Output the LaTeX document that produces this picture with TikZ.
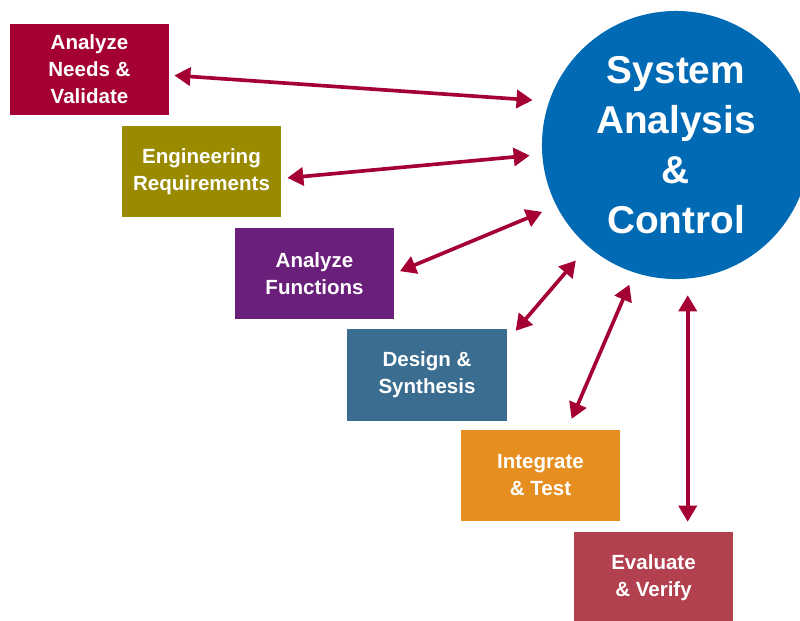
\documentclass[tikz,border=0pt]{standalone}
\usepackage{fontspec}
\setmainfont{Liberation Sans}
\usepackage{tikz}
\usetikzlibrary{arrows.meta}
\definecolor{crimson}{HTML}{A50034}
\definecolor{olive}{HTML}{9A8A00}
\definecolor{plum}{HTML}{6A1F7A}
\definecolor{steel}{HTML}{3A6D90}
\definecolor{amber}{HTML}{E68E1F}
\definecolor{rose}{HTML}{B3404F}
\definecolor{hubblue}{HTML}{006AB5}
\tikzset{box/.style={rectangle, text=white, align=center, minimum width=3.975cm, minimum height=2.275cm, inner sep=0pt, font=\bfseries\fontsize{14.6}{19.2}\selectfont}}
\tikzset{hub/.style={circle, fill=hubblue, text=white, align=center, minimum size=6.7cm, inner sep=0pt, font=\bfseries\fontsize{27.6}{35.6}\selectfont}}
\tikzset{link/.style={draw=crimson, line width=2.6pt, {Triangle[length=11.4pt, width=12.8pt]}-{Triangle[length=11.4pt, width=12.8pt]}}}

\begin{document}
\begin{tikzpicture}[x=0.025cm, y=-0.025cm]
            \useasboundingbox (0,0) rectangle (800,620);
            \node[hub] (sac) at (676,145) {System\\Analysis\\\&\\Control};
            \node[box, fill=crimson] (n1) at (89.5,69.5) {Analyze\\Needs \&\\Validate};
            \node[box, fill=olive] (n2) at (201.5,171.5) {Engineering\\Requirements};
            \node[box, fill=plum] (n3) at (314.5,273.5) {Analyze\\Functions};
            \node[box, fill=steel] (n4) at (427,375) {Design \&\\Synthesis};
            \node[box, fill=amber] (n5) at (540.5,475.5) {Integrate\\\& Test};
            \node[box, fill=rose] (n6) at (653.5,577.5) {Evaluate\\\& Verify};
            % two-way links between each step and the hub
            \draw[link, shorten <=3.6pt, shorten >=11.7pt] (n1.-4) -- (sac.161);
            \draw[link, shorten <=4.3pt, shorten >=8.8pt] (n2.-5) -- (sac.184);
            \draw[link, shorten <=4.3pt, shorten >=10.9pt] (n3.east) -- (sac.207.5);
            \draw[link, shorten <=9.6pt, shorten >=13.2pt] (n4.23) -- (sac.229.6);
            \draw[link, shorten <=8.4pt, shorten >=9.2pt] (n5.60) -- (sac.252);
            \draw[link, shorten <=7.1pt, shorten >=11.7pt] (sac.275 |- n6.north) -- (sac.275);
        \end{tikzpicture}
\end{document}
